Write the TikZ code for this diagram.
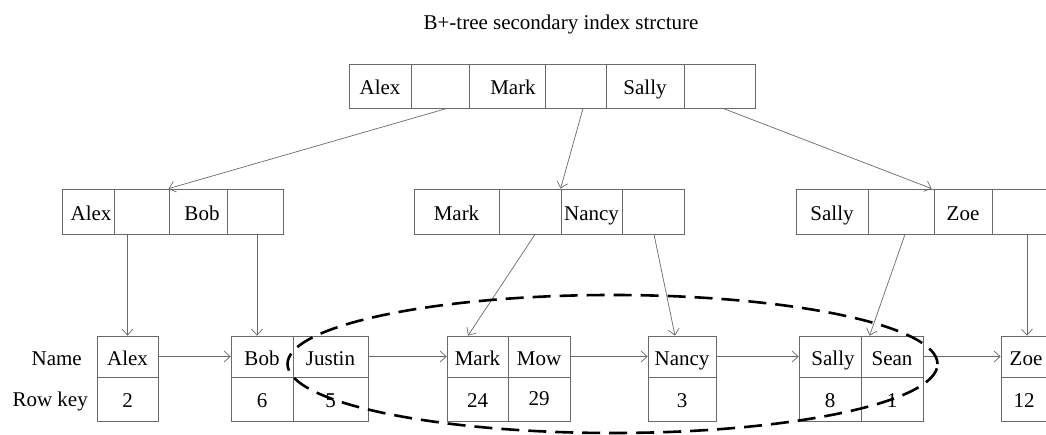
\documentclass[tikz,border=0pt]{standalone}
\usepackage{fontspec}
\setmainfont{Liberation Serif}
\usetikzlibrary{arrows.meta,calc}
\definecolor{linegray}{RGB}{105,105,105}
\newcommand{\fsz}{\fontsize{21}{25}\selectfont}
\begin{document}
\begin{tikzpicture}[x=1pt,y=-1pt,
  cell/.style={draw=linegray, line width=0.8pt, inner sep=0pt, font=\fsz,
    text height=19pt, text depth=1pt, anchor=center},
  rootc/.style={cell, minimum height=44pt},
  midc/.style={cell, minimum height=45pt},
  leaft/.style={cell, minimum height=41pt},
  leafb/.style={cell, minimum height=44pt, text height=17.5pt, text depth=1pt},
  arr/.style={draw=linegray, line width=0.7pt, -{Straight Barb[length=6pt,width=11pt]}},
  lbl/.style={font=\fsz, inner sep=0pt},
  ring/.style={draw=black, line width=2.6pt, dash pattern=on 18pt off 9pt}
]
\useasboundingbox (0,0) rectangle (1046,435);
\clip (0,0) rectangle (1046,435);

% title
\node[lbl, anchor=base] (title) at (561,29.5) {B+-tree secondary index strcture};

% root
\node[rootc, minimum width=62pt] (r1) at (380,86) {Alex};
\node[rootc, minimum width=58pt] (r2) at (440,86) {};
\node[rootc, minimum width=76pt] (r3) at (507,86) {\hspace*{12pt}Mark};
\node[rootc, minimum width=61pt] (r4) at (575.5,86) {};
\node[rootc, minimum width=78pt] (r5) at (645,86) {Sally};
\node[rootc, minimum width=71pt] (r6) at (719.5,86) {};

% level 2 left
\node[midc, minimum width=52pt] (la) at (88,211.5) {\hspace*{6pt}Alex};
\node[midc, minimum width=55pt] (lb) at (141.5,211.5) {};
\node[midc, minimum width=58pt] (lc) at (198,211.5) {\hspace*{8pt}Bob};
\node[midc, minimum width=56pt] (ld) at (255,211.5) {};
% level 2 middle
\node[midc, minimum width=85pt] (ma) at (456.5,211.5) {Mark};
\node[midc, minimum width=62pt] (mb) at (530,211.5) {};
\node[midc, minimum width=61pt] (mc) at (591.5,211.5) {Nancy};
\node[midc, minimum width=62pt] (md) at (653,211.5) {};
% level 2 right
\node[midc, minimum width=72pt] (sa) at (832,211.5) {Sally};
\node[midc, minimum width=66pt] (sb) at (901,211.5) {};
\node[midc, minimum width=58pt] (sc) at (963,211.5) {Zoe};
\node[midc, minimum width=68pt] (sd) at (1026,211.5) {};

% leaves
\node[leaft, minimum width=61pt] (alexN) at (127.5,356.5) {Alex};
\node[leafb, minimum width=61pt] (alexK) at (127.5,399) {2};
\node[leaft, minimum width=62pt] (bobN) at (262,356.5) {Bob};
\node[leafb, minimum width=62pt] (bobK) at (262,399) {6};
\node[leaft, minimum width=75pt] (justinN) at (330.5,356.5) {Justin};
\node[leafb, minimum width=75pt] (justinK) at (330.5,399) {5};
\node[leaft, minimum width=61pt] (markN) at (477.5,356.5) {Mark};
\node[leafb, minimum width=61pt] (markK) at (477.5,399) {24};
\node[leaft, minimum width=62pt] (mowN) at (539,356.5) {Mow};
\node[leafb, minimum width=62pt] (mowK) at (539,399) {\raisebox{2pt}{29}};
\node[leaft, minimum width=68pt] (nancyN) at (682,356.5) {Nancy};
\node[leafb, minimum width=68pt] (nancyK) at (682,399) {3};
\node[leaft, minimum width=62pt] (sallyN) at (830,356.5) {\hspace*{6pt}Sally};
\node[leafb, minimum width=62pt] (sallyK) at (830,399) {8};
\node[leaft, minimum width=62pt] (seanN) at (892,356.5) {Sean};
\node[leafb, minimum width=62pt] (seanK) at (892,399) {1};
\node[leaft, minimum width=62pt] (zoeN) at (1032,356.5) {Zoe\hspace*{12pt}};
\node[leafb, minimum width=62pt] (zoeK) at (1032,399) {12\hspace*{16pt}};

% row labels
\node[lbl, anchor=base east] (namelbl) at (82,365.7) {Name};
\node[lbl, anchor=base east] (rowlbl) at (88,406.7) {Row key};

% root -> level 2
\draw[arr] ([xshift=7pt]r2.south) -- (lc.north west);
\draw[arr] ([xshift=7.5pt]r4.south) -- (mc.north west);
\draw[arr] ([xshift=3.5pt]r6.south) -- ([xshift=-2pt]sc.north west);

% level 2 -> leaves
\draw[arr] (lb.south -| alexN.north) -- (alexN.north);
\draw[arr] ([xshift=2pt]ld.south) -- ([xshift=2pt]ld.south |- bobN.north);
\draw[arr] ([xshift=5pt]mb.south) -- ([xshift=-9.5pt]markN.north);
\draw[arr] ([xshift=1pt]md.south) -- ([xshift=-7pt]nancyN.north);
\draw[arr] ([xshift=4pt]sb.south) -- ([xshift=9pt]seanN.north west);
\draw[arr] ([xshift=1pt]sd.south) -- ([xshift=1pt]sd.south |- zoeN.north);

% leaf chain
\draw[arr] (alexN.east) -- (bobN.west);
\draw[arr] (justinN.east) -- (markN.west);
\draw[arr] (mowN.east) -- (nancyN.west);
\draw[arr] (nancyN.east) -- (sallyN.west);
\draw[arr] (seanN.east) -- (zoeN.west);

% dashed grouping ellipse
\draw[ring] (612.5,364) ellipse [x radius=325pt, y radius=69pt];
\end{tikzpicture}
\end{document}
